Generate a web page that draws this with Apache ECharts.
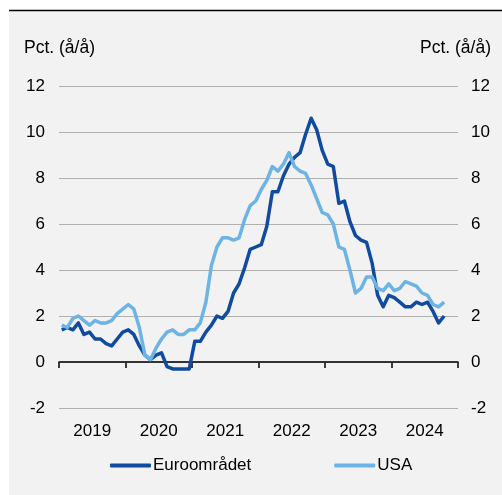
<!DOCTYPE html>
<html>
<head>
<meta charset="utf-8">
<script src="https://cdn.jsdelivr.net/npm/echarts@6/dist/echarts.min.js"></script>
<style>
  html, body { margin: 0; padding: 0; background: #ffffff; }
  #chart { width: 502px; height: 495px; }
</style>
</head>
<body>
<div id="chart"></div>
<script>
// Årlig inflation, månedlige observationer jan. 2019 - okt. 2024
const years = ['2019', '2020', '2021', '2022', '2023', '2024'];

const euroomraadet = [
  1.4, 1.5, 1.4, 1.7, 1.2, 1.3, 1.0, 1.0, 0.8, 0.7, 1.0, 1.3,
  1.4, 1.2, 0.7, 0.3, 0.1, 0.3, 0.4, -0.2, -0.3, -0.3, -0.3, -0.3,
  0.9, 0.9, 1.3, 1.6, 2.0, 1.9, 2.2, 3.0, 3.4, 4.1, 4.9, 5.0,
  5.1, 5.9, 7.4, 7.4, 8.1, 8.6, 8.9, 9.1, 9.9, 10.6, 10.1, 9.2,
  8.6, 8.5, 6.9, 7.0, 6.1, 5.5, 5.3, 5.2, 4.3, 2.9, 2.4, 2.9,
  2.8, 2.6, 2.4, 2.4, 2.6, 2.5, 2.6, 2.2, 1.7, 2.0
];

const usa = [
  1.6, 1.5, 1.9, 2.0, 1.8, 1.6, 1.8, 1.7, 1.7, 1.8, 2.1, 2.3,
  2.5, 2.3, 1.5, 0.3, 0.1, 0.6, 1.0, 1.3, 1.4, 1.2, 1.2, 1.4,
  1.4, 1.7, 2.6, 4.2, 5.0, 5.4, 5.4, 5.3, 5.4, 6.2, 6.8, 7.0,
  7.5, 7.9, 8.5, 8.3, 8.6, 9.1, 8.5, 8.3, 8.2, 7.7, 7.1, 6.5,
  6.4, 6.0, 5.0, 4.9, 4.0, 3.0, 3.2, 3.7, 3.7, 3.2, 3.1, 3.4,
  3.1, 3.2, 3.5, 3.4, 3.3, 3.0, 2.9, 2.5, 2.4, 2.6
];

const yTicks = { min: -2, max: 12, step: 2 };
const unitLabel = 'Pct. (å/å)';

// Each month sits in the middle of its slot on a 0..72 month scale
const toPoints = arr => arr.map((v, i) => [i + 0.5, v]);

const font = 'Arial, "Liberation Sans", sans-serif';
const euroColor = '#104ba0';
const usaColor = '#6db3e4';

const chart = echarts.init(document.getElementById('chart'), null, { renderer: 'canvas' });

const yAxisCommon = {
  type: 'value',
  min: yTicks.min,
  max: yTicks.max,
  interval: yTicks.step,
  axisLine: { show: false },
  axisTick: { show: false },
  axisLabel: { color: '#000', fontSize: 17, fontFamily: font },
  splitLine: { show: true, lineStyle: { color: '#b0b0b0', width: 1 } }
};

chart.setOption({
  backgroundColor: '#ffffff',
  animation: false,
  graphic: [
    {
      type: 'rect', z: -10, silent: true,
      shape: { x: 9, y: 11, width: 493, height: 484 },
      style: { fill: '#f2f2f2' }
    },
    {
      type: 'line', z: -9, silent: true,
      shape: { x1: 9, y1: 10.5, x2: 502, y2: 10.5 },
      style: { stroke: '#000', lineWidth: 1.5 }
    },
    {
      type: 'text', left: 24, top: 39,
      style: { text: unitLabel, fill: '#000', fontSize: 17.5, fontFamily: font }
    },
    {
      type: 'text', right: 11, top: 39,
      style: { text: unitLabel, fill: '#000', fontSize: 17.5, fontFamily: font }
    }
  ],
  grid: { left: 59, right: 44, top: 86, bottom: 87 },
  legend: {
    left: 105,
    top: 452,
    itemWidth: 41,
    itemHeight: 4,
    itemGap: 83,
    icon: 'roundRect',
    textStyle: { color: '#000', fontSize: 17, fontFamily: font, padding: [0, 0, 0, -3] },
    data: ['Euroområdet', 'USA']
  },
  xAxis: [
    {
      type: 'category',
      data: years,
      boundaryGap: true,
      position: 'bottom',
      axisLine: { show: true, lineStyle: { color: '#000', width: 1.5 } },
      axisTick: { show: true, length: 6, lineStyle: { color: '#000', width: 1.5 } },
      axisLabel: { color: '#000', fontSize: 17, fontFamily: font, margin: 15 },
      splitLine: { show: false }
    },
    {
      type: 'value',
      min: 0,
      max: years.length * 12,
      show: false
    }
  ],
  yAxis: [
    Object.assign({}, yAxisCommon, { position: 'left', axisLabel: Object.assign({}, yAxisCommon.axisLabel, { margin: 14 }) }),
    Object.assign({}, yAxisCommon, { position: 'right', axisLabel: Object.assign({}, yAxisCommon.axisLabel, { margin: 13 }) })
  ],
  series: [
    {
      name: 'Euroområdet',
      type: 'line',
      xAxisIndex: 1,
      yAxisIndex: 0,
      data: toPoints(euroomraadet),
      showSymbol: false,
      symbol: 'none',
      lineStyle: { color: euroColor, width: 3.5, join: 'round' },
      itemStyle: { color: euroColor },
      z: 3,
      markLine: {
        silent: true,
        symbol: 'none',
        label: { show: false },
        lineStyle: { color: '#333', width: 1.5, type: 'solid' },
        data: [{ yAxis: 0 }],
        z: 1
      }
    },
    {
      name: 'USA',
      type: 'line',
      xAxisIndex: 1,
      yAxisIndex: 0,
      data: toPoints(usa),
      showSymbol: false,
      symbol: 'none',
      lineStyle: { color: usaColor, width: 3.5, join: 'round' },
      itemStyle: { color: usaColor },
      z: 4
    }
  ]
});
</script>
</body>
</html>
